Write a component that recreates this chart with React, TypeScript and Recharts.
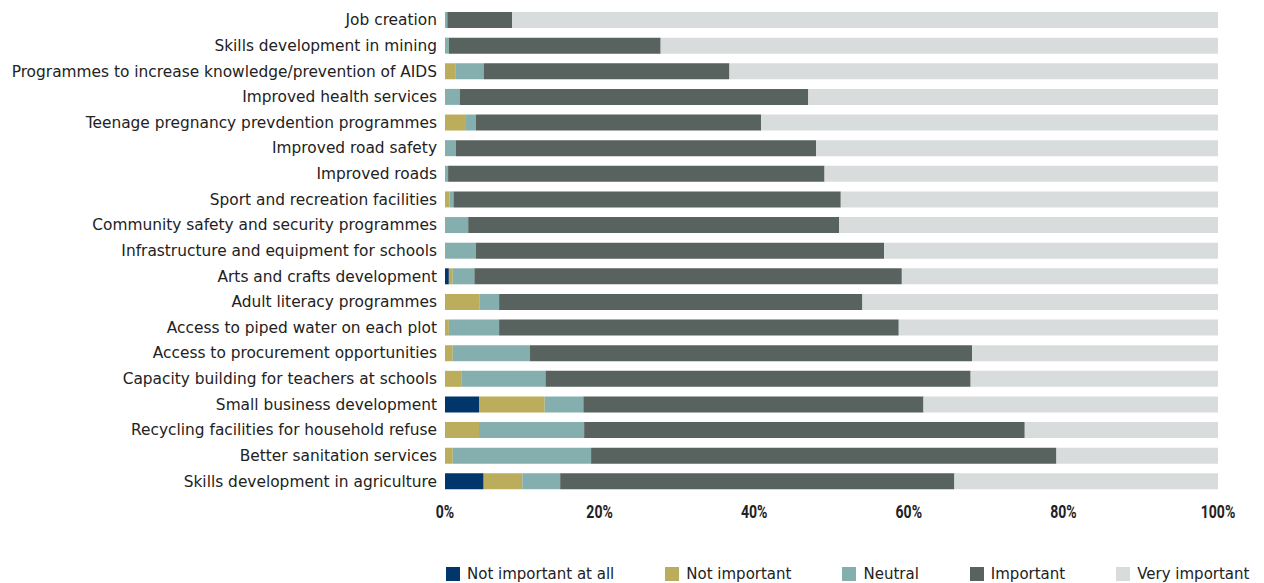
import { BarChart, Bar, XAxis, YAxis, Legend } from "recharts";

const categories = [
  "Job creation",
  "Skills development in mining",
  "Programmes to increase knowledge/prevention of AIDS",
  "Improved health services",
  "Teenage pregnancy prevdention programmes",
  "Improved road safety",
  "Improved roads",
  "Sport and recreation facilities",
  "Community safety and security programmes",
  "Infrastructure and equipment for schools",
  "Arts and crafts development",
  "Adult literacy programmes",
  "Access to piped water on each plot",
  "Access to procurement opportunities",
  "Capacity building for teachers at schools",
  "Small business development",
  "Recycling facilities for household refuse",
  "Better sanitation services",
  "Skills development in agriculture",
];

const notImportantAtAll = [0, 0, 0, 0, 0, 0, 0, 0, 0, 0, 0.5, 0, 0, 0, 0, 4.4, 0, 0, 5.0];
const notImportant = [0, 0, 1.4, 0, 2.6, 0, 0, 0.6, 0, 0, 0.5, 4.5, 0.5, 1.0, 2.1, 8.5, 4.4, 1.0, 5.0];
const neutral = [0.3, 0.5, 3.6, 1.9, 1.4, 1.4, 0.4, 0.5, 3.0, 4.0, 2.8, 2.5, 6.5, 10.0, 10.9, 5.0, 13.6, 17.9, 4.9];
const important = [8.4, 27.4, 31.8, 45.1, 36.9, 46.6, 48.7, 50.1, 48.0, 52.8, 55.3, 47.0, 51.7, 57.2, 55.0, 44.0, 57.0, 60.2, 51.0];
const veryImportant = [91.3, 72.1, 63.2, 53.0, 59.1, 52.0, 50.9, 48.8, 49.0, 43.2, 40.9, 46.0, 41.3, 31.8, 32.0, 38.1, 25.0, 20.9, 34.1];

const xTicks = [0, 0.2, 0.4, 0.6, 0.8, 1];

const series = [
  { key: "nia", name: "Not important at all", color: "#00366b", values: notImportantAtAll },
  { key: "ni", name: "Not important", color: "#bbad5c", values: notImportant },
  { key: "neu", name: "Neutral", color: "#84afae", values: neutral },
  { key: "imp", name: "Important", color: "#58625e", values: important },
  { key: "vimp", name: "Very important", color: "#d8dcdd", values: veryImportant },
];

const data = categories.map((name, i) => {
  const row: any = { name };
  series.forEach((s) => (row[s.key] = s.values[i]));
  return row;
});

const labelFont = "'DejaVu Sans', sans-serif";

function PercentTick(props: any) {
  const { x, y, payload } = props;
  return (
    <g transform={`translate(${x},${y}) scale(0.78,1)`}>
      <text x={0} y={24} textAnchor="middle" fontFamily="Roboto, sans-serif" fontWeight={700} fontSize={18} fill="#222">
        {Math.round(payload.value * 100) + "%"}
      </text>
    </g>
  );
}

function LegendBox() {
  return (
    <div
      style={{
        display: "flex",
        gap: 51,
        paddingLeft: 446,
        height: 18,
        alignItems: "center",
        fontFamily: labelFont,
        fontSize: 15,
        color: "#222",
        whiteSpace: "nowrap",
      }}
    >
      {series.map((s) => (
        <div key={s.key} style={{ display: "flex", alignItems: "center", flexShrink: 0 }}>
          <span style={{ width: 14, height: 14, background: s.color, display: "inline-block", marginRight: 7 }} />
          <span>{s.name}</span>
        </div>
      ))}
    </div>
  );
}

export default function App() {
  return (
    <div style={{ position: "absolute", left: 0, top: 0, background: "#fff" }}>
      <BarChart
        width={1264}
        height={583}
        data={data}
        layout="vertical"
        stackOffset="expand"
        margin={{ top: 7, right: 46, bottom: 0, left: 0 }}
      >
        <XAxis
          type="number"
          domain={[0, 1]}
          ticks={xTicks}
          axisLine={false}
          tickLine={false}
          tickSize={0}
          tickMargin={0}
          height={71}
          tick={<PercentTick />}
          interval={0}
        />
        <YAxis
          type="category"
          dataKey="name"
          width={445}
          axisLine={false}
          tickLine={false}
          tickSize={0}
          tickMargin={8}
          interval={0}
          tick={{ fontFamily: labelFont, fontSize: 15.4, fill: "#222" }}
        />
        <Legend
          verticalAlign="bottom"
          align="left"
          height={18}
          width={1264}
          wrapperStyle={{ left: 0, width: 1264 }}
          content={<LegendBox />}
        />
        {series.map((s) => (
          <Bar key={s.key} dataKey={s.key} name={s.name} stackId="a" fill={s.color} barSize={16} isAnimationActive={false} />
        ))}
      </BarChart>
    </div>
  );
}
